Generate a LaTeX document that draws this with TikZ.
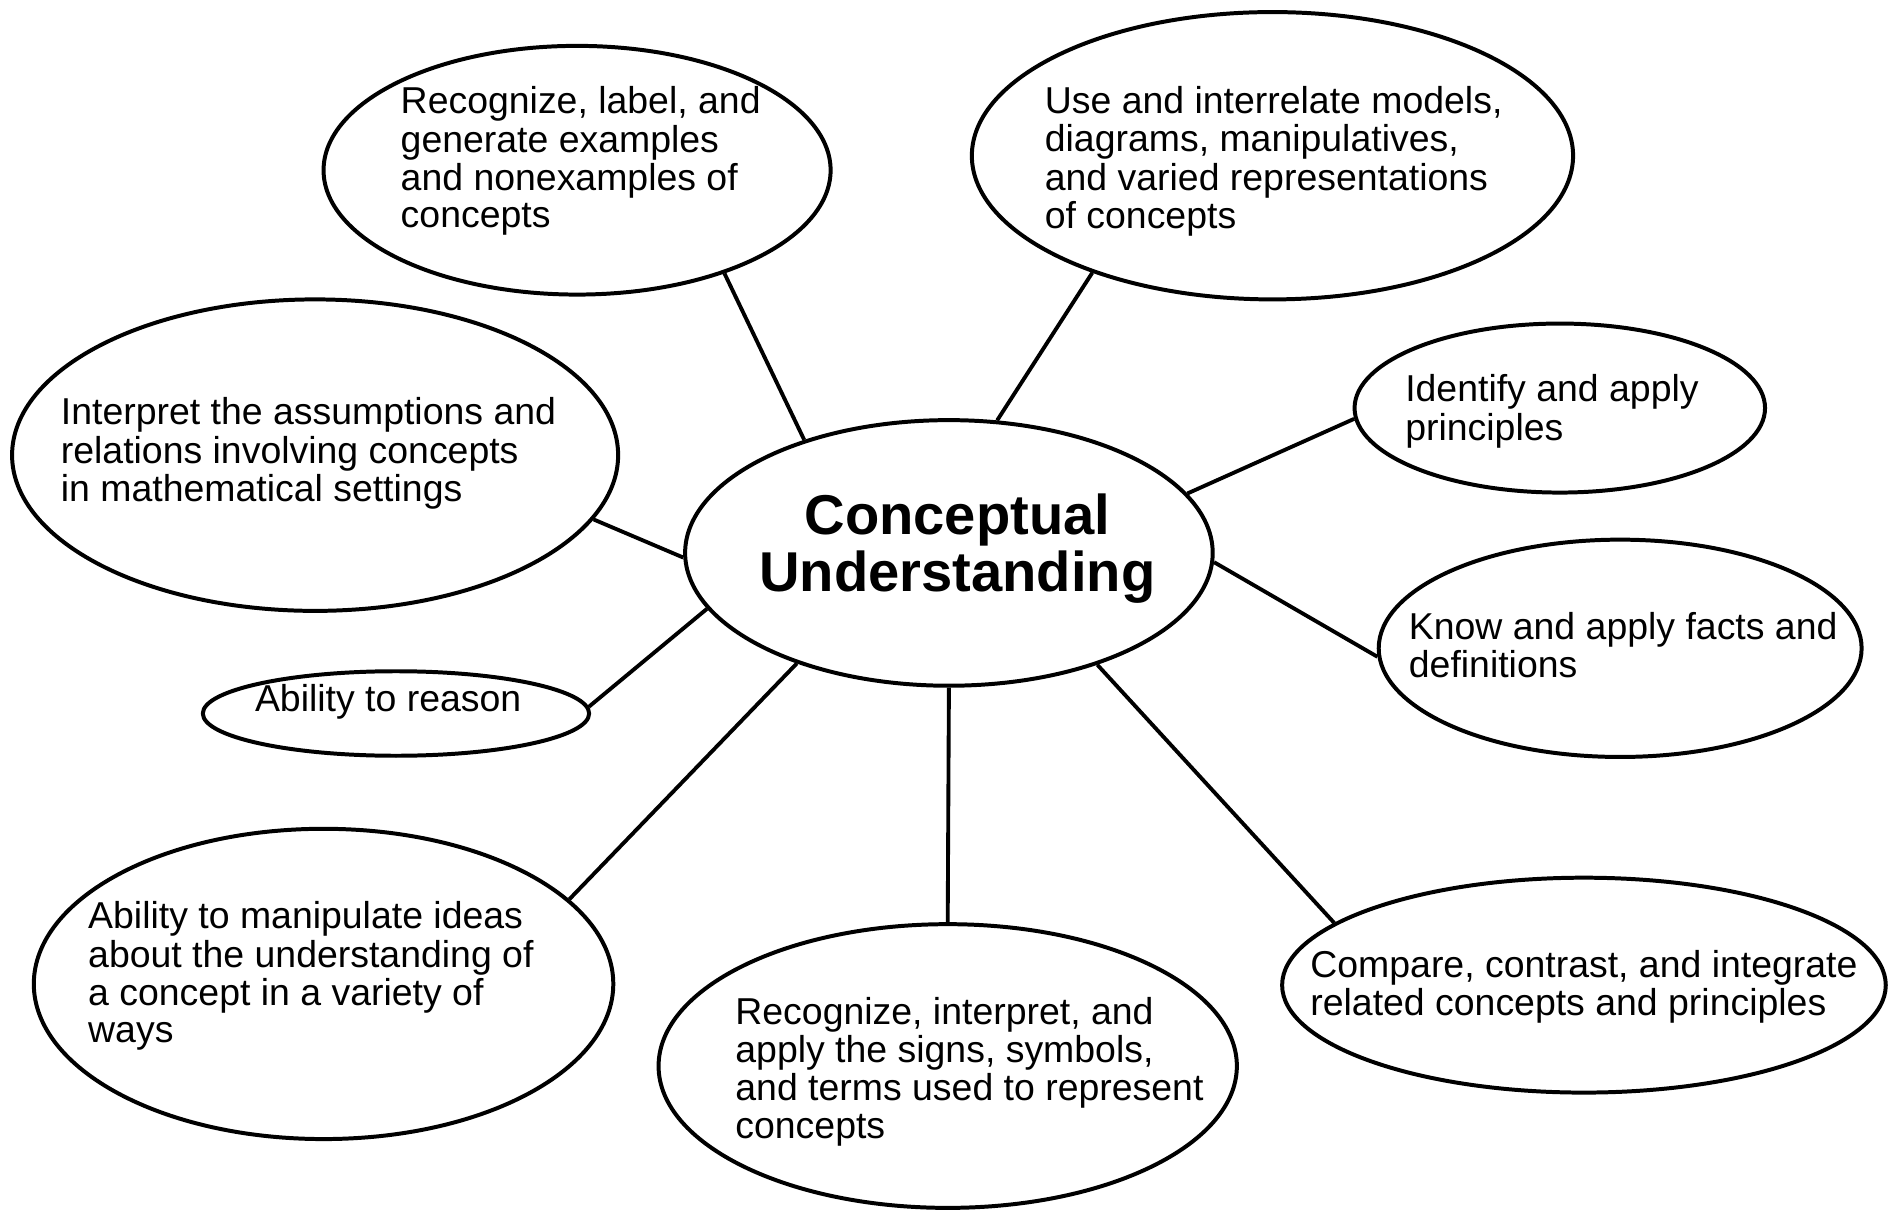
\documentclass[tikz,border=0pt]{standalone}
\usepackage{fontspec}
\setmainfont{Liberation Sans}
\usetikzlibrary{shapes.geometric}
% text block of no size, moved right by #2 and up by #3
\newcommand{\bubtext}[4][l]{\makebox[0pt]{\hspace*{#2}\raisebox{#3}[0pt][0pt]{\vbox to 0pt{\vss\hbox{\begin{tabular}{@{}#1@{}}#4\end{tabular}}\vss}}\hspace*{-#2}}}

\begin{document}
\begin{tikzpicture}[x=1pt,y=-1pt,
  bubble/.style={ellipse,draw,line width=3.3pt,inner sep=0pt,font=\fontsize{31}{31}\selectfont},
  every edge/.style={draw,line width=3.2pt}]
\useasboundingbox (0,0) rectangle (1568,1003);
\node (cu) [bubble,minimum width=437pt,minimum height=220pt,font=\fontsize{46.5}{45}\selectfont\bfseries] at (786,458) {\bubtext[c]{7pt}{2pt}{Conceptual\\Understanding}};
\node (rl) [bubble,minimum width=420pt,minimum height=206pt] at (478,141) {\bubtext{3pt}{6pt}{Recognize, label, and\\generate examples\\and nonexamples of\\concepts}};
\node (ui) [bubble,minimum width=498pt,minimum height=238pt] at (1054,129) {\bubtext{1pt}{-6pt}{Use and interrelate models,\\diagrams, manipulatives,\\and varied representations\\of concepts}};
\node (ia) [bubble,minimum width=502pt,minimum height=258pt] at (261,377) {\bubtext{-5.5pt}{0pt}{Interpret the assumptions and\\relations involving concepts\\in mathematical settings}};
\node (ip) [bubble,minimum width=340pt,minimum height=140pt] at (1292,338) {\bubtext{-6.5pt}{-4pt}{Identify and apply\\principles}};
\node (kf) [bubble,minimum width=400pt,minimum height=180pt] at (1342,537) {\bubtext{2.5pt}{-2pt}{Know and apply facts and\\definitions}};
\node (ar) [bubble,minimum width=320pt,minimum height=70pt] at (328,591) {\bubtext{-6.5pt}{8pt}{Ability to reason}};
\node (am) [bubble,minimum width=480pt,minimum height=257pt] at (268,815) {\bubtext{-10.5pt}{5pt}{Ability to manipulate ideas\\about the understanding of\\a concept in a variety of\\ways}};
\node (ri) [bubble,minimum width=479pt,minimum height=235pt] at (785,883) {\bubtext{18pt}{-6pt}{Recognize, interpret, and\\apply the signs, symbols,\\and terms used to represent\\concepts}};
\node (cc) [bubble,minimum width=500pt,minimum height=178pt] at (1312,816) {\bubtext{0pt}{-3pt}{Compare, contrast, and integrate\\related concepts and principles}};

\path (cu.142.2) edge (rl.325.6);
\path (cu.70.5) edge (ui.213.8);
\path (cu.14.6) edge (ip.183.4);
\path (cu.-2.3) edge (kf.182.4);
\path (cu.181.9) edge (ia.347.5);
\path (cu.193.7) edge (ar.2);
\path (cu.216.8) edge (am.19.6);
\path (cu.270) edge (ri.90);
\path (cu.323.4) edge (cc.166.5);
\end{tikzpicture}
\end{document}
